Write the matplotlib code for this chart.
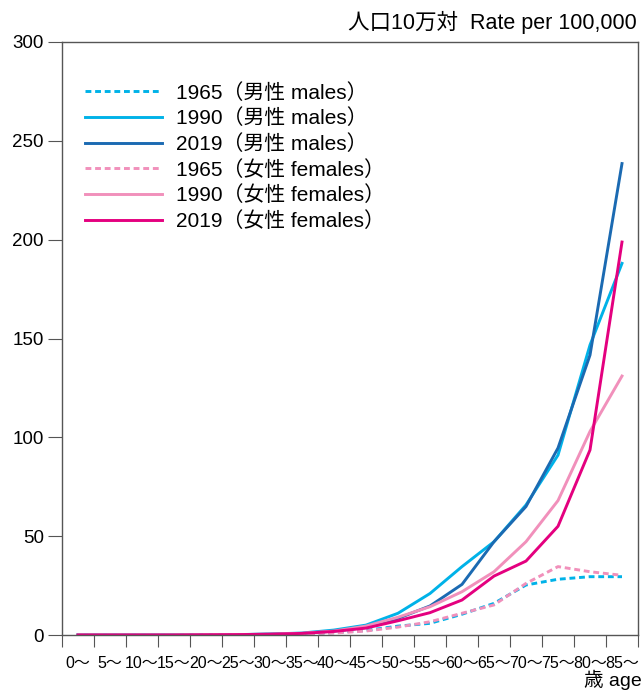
import numpy as np
import matplotlib
matplotlib.use("Agg")
import matplotlib.pyplot as plt

plt.rcParams["font.family"] = ["Liberation Sans", "Noto Sans CJK JP", "DejaVu Sans"]

# age groups
age_labels = ["0〜", "5〜", "10〜", "15〜", "20〜", "25〜", "30〜", "35〜", "40〜",
              "45〜", "50〜", "55〜", "60〜", "65〜", "70〜", "75〜", "80〜", "85〜"]

# rates per 100,000
male_1965 = [0, 0, 0, 0, 0.1, 0.2, 0.3, 0.6, 1.2, 2.3, 4.5, 5.9, 10.5, 16.0, 25.3, 28.2, 29.5, 29.5]
male_1990 = [0, 0, 0, 0, 0.1, 0.2, 0.5, 1.0, 2.5, 5.0, 11.0, 21.0, 34.6, 47.2, 65.8, 91.0, 146.7, 188.0]
male_2019 = [0, 0, 0, 0, 0.1, 0.2, 0.4, 0.8, 2.0, 3.8, 8.4, 14.7, 25.6, 47.2, 65.0, 94.6, 141.6, 238.5]
female_1965 = [0, 0, 0, 0, 0.1, 0.2, 0.3, 0.6, 1.0, 2.0, 4.0, 6.7, 11.0, 15.2, 26.1, 34.6, 32.0, 30.2]
female_1990 = [0, 0, 0, 0, 0.1, 0.2, 0.4, 0.9, 2.0, 4.5, 9.0, 14.3, 21.9, 32.0, 47.2, 68.0, 103.0, 131.0]
female_2019 = [0, 0, 0, 0, 0.1, 0.2, 0.4, 0.8, 1.8, 3.5, 7.2, 11.3, 17.7, 29.8, 37.4, 55.0, 93.6, 198.8]

CYAN = "#00b2e8"
NAVY = "#1b6ab2"
PINK = "#f190bb"
MAGENTA = "#e4007f"

fig = plt.figure(figsize=(6.43, 6.91), dpi=100)
ax = fig.add_axes([62 / 643, 56 / 691, 576 / 643, 593 / 691])

x = np.arange(len(age_labels)) + 0.5
lw = 2.1
dash = (0, (2.0, 1.3))
ax.plot(x, male_1965, color=CYAN, lw=lw, ls=dash, label="1965（男性 males）")
ax.plot(x, male_1990, color=CYAN, lw=lw, label="1990（男性 males）")
ax.plot(x, male_2019, color=NAVY, lw=lw, label="2019（男性 males）")
ax.plot(x, female_1965, color=PINK, lw=lw, ls=dash, label="1965（女性 females）")
ax.plot(x, female_1990, color=PINK, lw=lw, label="1990（女性 females）")
ax.plot(x, female_2019, color=MAGENTA, lw=lw, label="2019（女性 females）")

ax.set_xlim(0, len(age_labels))
ax.set_ylim(0, 300)
ax.set_yticks([0, 50, 100, 150, 200, 250, 300])
ax.set_xticks(np.arange(len(age_labels) + 1))
ax.set_xticklabels([])
ax.set_xticks(x, minor=True)
ax.set_xticklabels(age_labels, minor=True, fontsize=11.5)

spine_c = "#555555"
for s in ax.spines.values():
    s.set_color(spine_c)
    s.set_linewidth(1.0)
ax.tick_params(axis="y", which="major", length=10, color=spine_c, labelsize=13.5, pad=3)
ax.tick_params(axis="x", which="major", length=8.5, color=spine_c)
ax.tick_params(axis="x", which="minor", length=0, pad=15)

leg = ax.legend(loc="upper left", bbox_to_anchor=(0.025, 0.945), frameon=False,
                fontsize=15, handlelength=3.7, handletextpad=0.7, labelspacing=0.28,
                borderaxespad=0)

fig.text(637 / 643, 1 - 22 / 691, "人口10万対  Rate per 100,000", ha="right", va="center", fontsize=15.5)
fig.text(642 / 643, 0.001, "歳 age", ha="right", va="bottom", fontsize=14)

fig.savefig("out.png", dpi=100)
